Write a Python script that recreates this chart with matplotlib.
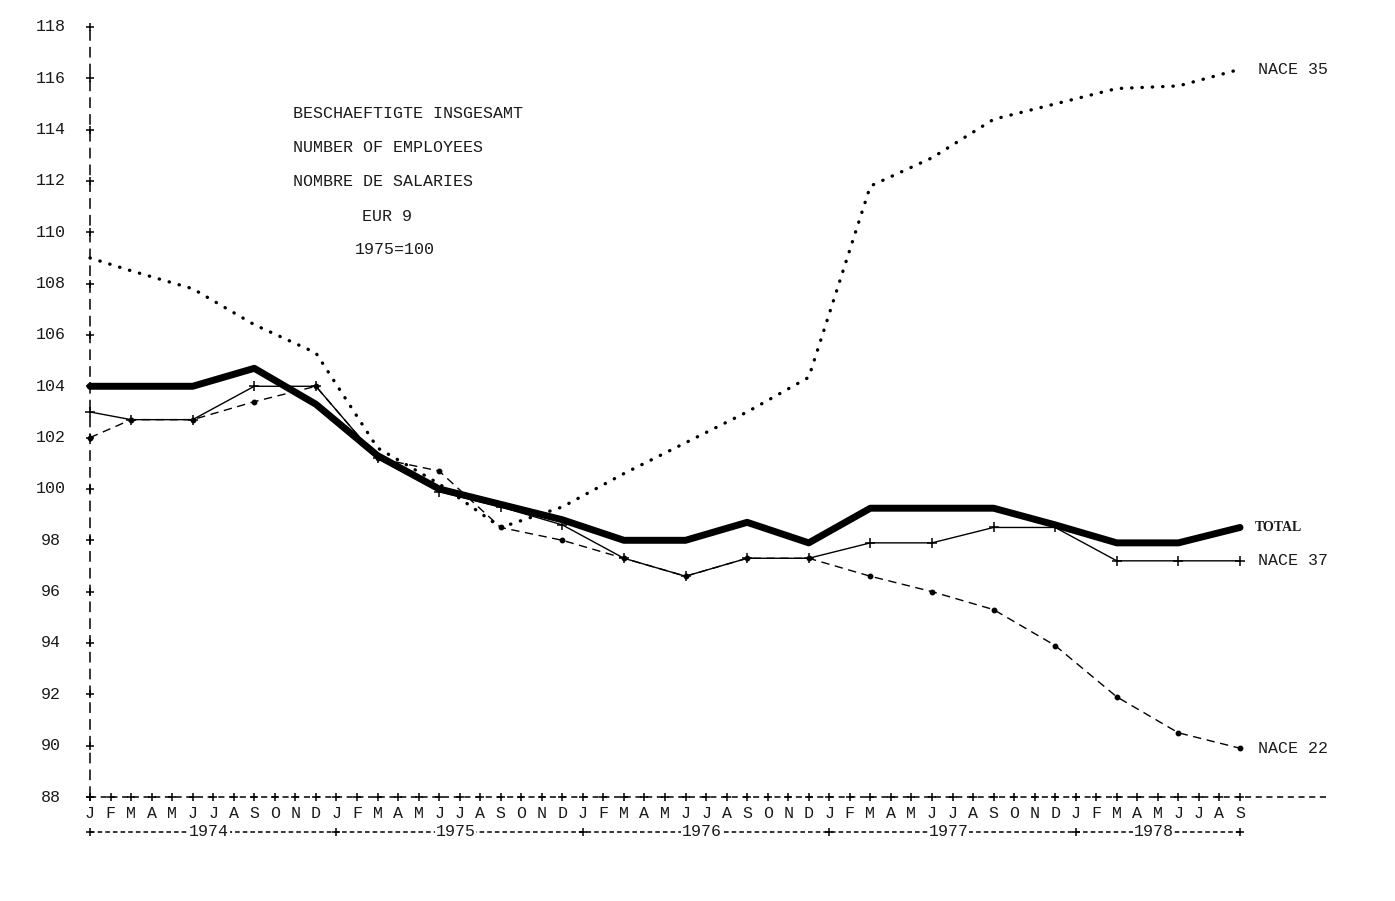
import matplotlib
matplotlib.use("Agg")
import matplotlib.pyplot as plt

# ---------------- data ----------------
month_letters = ["J", "F", "M", "A", "M", "J", "J", "A", "S", "O", "N", "D"]
years = ["1974", "1975", "1976", "1977", "1978"]
n_months = 57  # Jan 1974 .. Sep 1978
# month index (0 = Jan 1974) of each plotted observation
obs_month = [0, 2, 5, 8, 11, 14, 17, 20, 23, 26, 29, 32, 35, 38, 41, 44, 47, 50, 53, 56]

total = [104.0, 104.0, 104.0, 104.7, 103.3, 101.3, 100.0, 99.4, 98.8, 98.0,
         98.0, 98.7, 97.9, 99.25, 99.25, 99.25, 98.6, 97.9, 97.9, 98.5]
nace37 = [103.0, 102.7, 102.7, 104.0, 104.0, 101.2, 99.9, 99.3, 98.6, 97.3,
          96.6, 97.3, 97.3, 97.9, 97.9, 98.5, 98.5, 97.2, 97.2, 97.2]
nace22 = [102.0, 102.7, 102.7, 103.4, 104.0, 101.2, 100.7, 98.5, 98.0, 97.3,
          96.6, 97.3, 97.3, 96.6, 96.0, 95.3, 93.9, 91.9, 90.5, 89.9]
nace35 = [109.0, 108.5, 107.8, 106.4, 105.3, 101.6, 100.2, 98.5, 99.3, 100.6,
          101.8, 103.0, 104.35, 111.8, 112.9, 114.4, 115.0, 115.6, 115.7, 116.35]

y_ticks = list(range(88, 119, 2))
title_lines = ["BESCHAEFTIGTE INSGESAMT", "NUMBER OF EMPLOYEES",
               "NOMBRE DE SALARIES", "EUR 9", "1975=100"]

# ---------------- layout ----------------
W, H = 1395, 901
X0PX, DXPX = 90.0, 20.536      # pixel of Jan 1974, pixels per month
Y0PX, DYPX = 797.0, 25.67      # pixel of value 88, pixels per unit


def px2x(p):
    return (p - X0PX) / DXPX


def px2y(p):
    return 88 + (Y0PX - p) / DYPX


MONO = ["Liberation Mono", "DejaVu Sans Mono"]
TXT = "#1a1a1a"
FS = 12

fig = plt.figure(figsize=(W / 100, H / 100), dpi=100)
ax = fig.add_axes([0, 0, 1, 1])
ax.set_xlim(px2x(0), px2x(W))
ax.set_ylim(px2y(H), px2y(0))
ax.axis("off")

# ---------------- axes drawn like the line printer ----------------
# vertical axis
ax.plot([0, 0], [88, 118], color="black", lw=1.1, dashes=(7, 4))
ax.plot([0] * len(y_ticks), y_ticks, linestyle="none", marker="+",
        color="black", ms=6, mew=1.1)
for v in y_ticks:
    ax.text(px2x(51), v, str(v), ha="center", va="center", fontsize=FS,
            family=MONO, color=TXT)

# horizontal axis
months = list(range(n_months))
ax.plot([0, px2x(1330)], [88, 88], color="black", lw=1.1, dashes=(4, 3))
ax.plot(months, [88] * n_months, linestyle="none", marker="+",
        color="black", ms=6, mew=1.1)
y_month = px2y(814)
for m in months:
    ax.text(m, y_month, month_letters[m % 12], ha="center", va="center",
            fontsize=FS, family=MONO, color=TXT)

# year row
y_year = px2y(832)
ax.plot([0, n_months - 1], [y_year, y_year], color="black", lw=1.1, dashes=(3, 2))
year_marks = [0, 12, 24, 36, 48, n_months - 1]
ax.plot(year_marks, [y_year] * len(year_marks), linestyle="none", marker="+",
        color="black", ms=6, mew=1.1)
for i, yr in enumerate(years):
    a = year_marks[i]
    b = year_marks[i + 1]
    ax.text((a + b) / 2 - 0.2, y_year, yr, ha="center", va="center",
            fontsize=FS, family=MONO, color=TXT,
            bbox=dict(facecolor="white", edgecolor="none", pad=0.5))

# ---------------- series ----------------
ax.plot(obs_month, nace35, color="black", lw=2.4, linestyle=(0, (0.1, 3.0)),
        dash_capstyle="round", solid_capstyle="round", zorder=3)
ax.plot(obs_month, nace22, color="black", lw=1.0, dashes=(6, 4),
        marker="o", ms=3.2, zorder=4)
ax.plot(obs_month, nace37, color="black", lw=1.0, marker="+", ms=7, mew=1.1,
        zorder=4)
ax.plot(obs_month, total, color="black", lw=5.0, solid_joinstyle="round",
        solid_capstyle="round", zorder=5)

# series labels at the right end
lab_x = px2x(1258)
ax.text(lab_x, nace35[-1], "NACE 35", ha="left", va="center", fontsize=FS,
        family=MONO, color=TXT)
ax.text(px2x(1255), total[-1], "TOTAL", ha="left", va="center", fontsize=10,
        family=["Liberation Serif", "DejaVu Serif"], color=TXT, fontweight="bold")
ax.text(lab_x, nace37[-1], "NACE 37", ha="left", va="center", fontsize=FS,
        family=MONO, color=TXT)
ax.text(lab_x, nace22[-1], "NACE 22", ha="left", va="center", fontsize=FS,
        family=MONO, color=TXT)

# title block
title_px = [(293, 113), (293, 147), (293, 181), (362, 216), (355, 250)]
for line, (xp, yp) in zip(title_lines, title_px):
    ax.text(px2x(xp), px2y(yp), line, ha="left", va="center", fontsize=FS,
            family=MONO, color=TXT)

fig.savefig("out.png", dpi=100)
